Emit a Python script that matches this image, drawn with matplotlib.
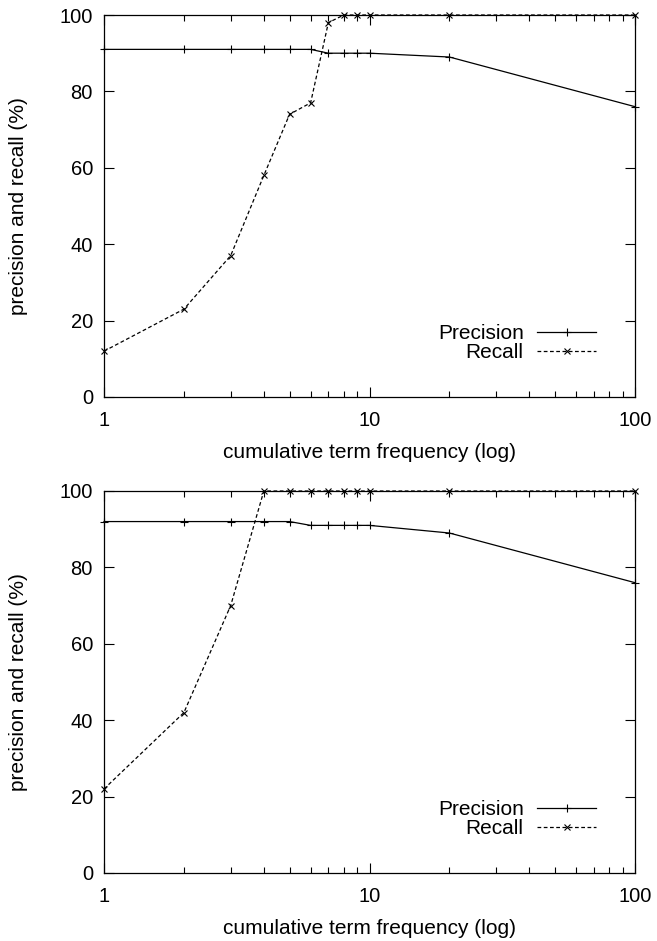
import matplotlib
matplotlib.use("Agg")
import matplotlib.pyplot as plt
from matplotlib.ticker import LogLocator, FixedLocator, NullFormatter, FixedFormatter

plt.rcParams['font.family'] = ['Liberation Sans', 'DejaVu Sans']

freq = [1, 2, 3, 4, 5, 6, 7, 8, 9, 10, 20, 100]
precision_top = [91, 91, 91, 91, 91, 91, 90, 90, 90, 90, 89, 76]
recall_top = [12, 23, 37, 58, 74, 77, 98, 100, 100, 100, 100, 100]
precision_bottom = [92, 92, 92, 92, 92, 91, 91, 91, 91, 91, 89, 76]
recall_bottom = [22, 42, 70, 100, 100, 100, 100, 100, 100, 100, 100, 100]
yticks = [0, 20, 40, 60, 80, 100]
xticks = [1, 10, 100]
xticklabels = ['1', '10', '100']

fig = plt.figure(figsize=(6.57, 9.41), dpi=100)
W, H = 657, 941
axes_boxes = [(104, 15, 635, 397), (104, 491, 635, 873)]
datasets = [(precision_top, recall_top), (precision_bottom, recall_bottom)]

FS = 14.5
for (x0, y0, x1, y1), (prec, rec) in zip(axes_boxes, datasets):
    ax = fig.add_axes([x0 / W, 1 - y1 / H, (x1 - x0) / W, (y1 - y0) / H])
    ax.plot(freq, prec, color='black', lw=0.9, marker='+', ms=6, mew=0.8,
            label='Precision', clip_on=False)
    ax.plot(freq, rec, color='black', lw=0.9, ls=(0, (3, 2)), marker='x', ms=4.5,
            mew=0.8, label='Recall', clip_on=False)
    ax.set_xscale('log')
    ax.set_xlim(1, 100)
    ax.set_ylim(0, 100)
    ax.xaxis.set_major_locator(FixedLocator(xticks))
    ax.xaxis.set_major_formatter(FixedFormatter(xticklabels))
    ax.xaxis.set_minor_locator(LogLocator(base=10, subs=range(2, 10)))
    ax.xaxis.set_minor_formatter(NullFormatter())
    ax.set_yticks(yticks)
    ax.tick_params(which='both', direction='in', top=True, right=True,
                   labelsize=FS, width=0.8)
    ax.tick_params(axis='x', which='both', pad=10)
    ax.tick_params(axis='y', which='both', pad=8)
    ax.tick_params(which='major', length=7)
    ax.tick_params(which='minor', length=4)
    for s in ax.spines.values():
        s.set_linewidth(0.9)
    ax.set_xlabel('cumulative term frequency (log)', fontsize=15)
    ax.set_ylabel('precision and recall (%)', fontsize=15)
    ax.xaxis.set_label_coords(0.5, -0.12)
    ax.yaxis.set_label_coords(-0.143, 0.5)
    leg = ax.legend(loc='lower right', bbox_to_anchor=(0.927, 0.092), frameon=False,
                    fontsize=15, markerfirst=False, handlelength=2.85,
                    handletextpad=0.63, labelspacing=0.0, borderpad=0.0,
                    borderaxespad=0.0)
    for t in leg.get_texts():
        t.set_ha('right')

fig.savefig('out.png', dpi=100)
